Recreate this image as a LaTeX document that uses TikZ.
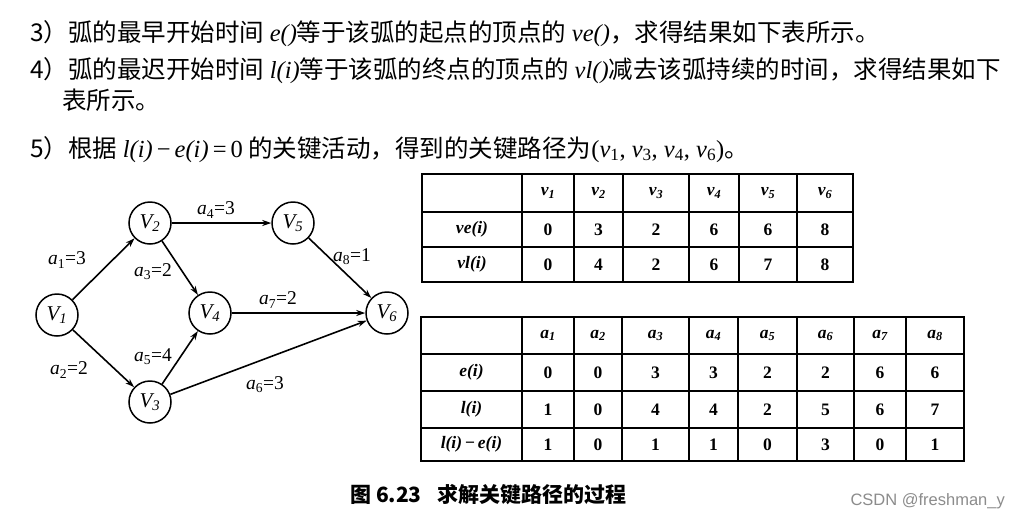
\documentclass[tikz,border=0pt]{standalone}
\usepackage{fontspec}
\setmainfont{Liberation Serif}
\newfontfamily\cjk{Noto Sans CJK SC}
\newfontfamily\wmfont{Liberation Sans}
\usetikzlibrary{arrows.meta}
\newcommand\mi[1]{{\rmfamily\itshape #1}}

\begin{document}
\begin{tikzpicture}[x=1pt,y=-1pt,
  vtx/.style={draw,circle,line width=1.5pt,minimum size=42pt,inner sep=0pt,font=\fontsize{21}{21}\selectfont\itshape},
  arc/.style={-{Stealth[length=9pt,width=6pt]},line width=1.6pt},
  lbl/.style={inner sep=0pt,font=\fontsize{19.5}{19.5}\selectfont},
  txt/.style={anchor=base west,inner sep=0pt,font=\fontsize{24.5}{25}\selectfont\cjk},
  cell/.style={inner sep=0pt,font=\fontsize{17.5}{17.5}\selectfont\bfseries},
  tline/.style={line width=1.1pt},
  tbox/.style={line width=1.6pt}]
  \useasboundingbox[fill=white] (0,0) rectangle (1019,520);

  % text above the figure
  \node[txt] (l1) at (30,41) {3）弧的最早开始时间 \mi{e()}等于该弧的起点的顶点的 \mi{ve()}，求得结果如下表所示。};
  \node[txt] (l2) at (30,78) {4）弧的最迟开始时间 \mi{l(i)}等于该弧的终点的顶点的 \mi{vl()}减去该弧持续的时间，求得结果如下};
  \node[txt] (l3) at (62,109) {表所示。};
  \node[txt] (l4) at (30,157) {5）根据 \mi{l(i)}{\rmfamily\,−\,}\mi{e(i)}{\rmfamily\,=\,0} 的关键活动，得到的关键路径为{\rmfamily(\mi{v}\textsubscript{1}, \mi{v}\textsubscript{3}, \mi{v}\textsubscript{4}, \mi{v}\textsubscript{6})}。};

  % AOE network
  \node[vtx] (v1) at (57,315) {V\textsubscript{1}};
  \node[vtx] (v2) at (150,223) {V\textsubscript{2}};
  \node[vtx] (v3) at (150,402) {V\textsubscript{3}};
  \node[vtx] (v4) at (210,313) {V\textsubscript{4}};
  \node[vtx] (v5) at (293,223) {V\textsubscript{5}};
  \node[vtx] (v6) at (387,313) {V\textsubscript{6}};
  \draw[arc] (v1) -- (v2);
  \draw[arc] (v1) -- (v3);
  \draw[arc] (v2) -- (v4);
  \draw[arc] (v2) -- (v5);
  \draw[arc] (v3) -- (v4);
  \draw[arc] (v3) -- (v6);
  \draw[arc] (v4) -- (v6);
  \draw[arc] (v5) -- (v6);
  \node[lbl] (a1) at (67,260) {\mi{a}\textsubscript{1}=3};
  \node[lbl] (a2) at (69,370) {\mi{a}\textsubscript{2}=2};
  \node[lbl] (a3) at (153,272) {\mi{a}\textsubscript{3}=2};
  \node[lbl] (a4) at (216,210) {\mi{a}\textsubscript{4}=3};
  \node[lbl] (a5) at (153,357) {\mi{a}\textsubscript{5}=4};
  \node[lbl] (a6) at (265,385) {\mi{a}\textsubscript{6}=3};
  \node[lbl] (a7) at (278,300) {\mi{a}\textsubscript{7}=2};
  \node[lbl] (a8) at (352,257) {\mi{a}\textsubscript{8}=1};

  % table of ve / vl
  \foreach \x in {522,574,623,689,739,797} {\draw[tline] (\x,174) -- (\x,282);}
  \foreach \y in {212,247} {\draw[tline] (422,\y) -- (853,\y);}
  \draw[tbox] (422,174) rectangle (853,282);
  \node[cell] (ve) at (472,229.5) {\itshape ve(i)};
  \node[cell] (vl) at (472,264.5) {\itshape vl(i)};
  \foreach \cx/\e/\l [count=\i] in {548/0/0,598.5/3/4,656/2/2,714/6/6,768/6/7,825/8/8} {
    \node[cell] (hv-\i) at (\cx,193) {\itshape v\textsubscript{\i}};
    \node[cell] (ve-\i) at (\cx,229.5) {\e};
    \node[cell] (vl-\i) at (\cx,264.5) {\l};
  }

  % table of e / l
  \foreach \x in {522,574,622,689,738,797,854,906} {\draw[tline] (\x,317) -- (\x,461);}
  \foreach \y in {354,391,428} {\draw[tline] (421,\y) -- (964,\y);}
  \draw[tbox] (421,317) rectangle (964,461);
  \node[cell] (e) at (471.5,372.5) {\itshape e(i)};
  \node[cell] (l) at (471.5,409.5) {\itshape l(i)};
  \node[cell] (d) at (471.5,444.5) {\itshape l(i)\,{\upshape −}\,e(i)};
  \foreach \cx/\e/\l/\d [count=\i] in {548/0/1/1,598/0/0/0,655.5/3/4/1,713.5/3/4/1,767.5/2/2/0,825.5/2/5/3,880/6/6/0,935/6/7/1} {
    \node[cell] (ha-\i) at (\cx,335.5) {\itshape a\textsubscript{\i}};
    \node[cell] (e-\i) at (\cx,372.5) {\e};
    \node[cell] (l-\i) at (\cx,409.5) {\l};
    \node[cell] (d-\i) at (\cx,444.5) {\d};
  }

  % caption and watermark
  \node[anchor=west,inner sep=0pt,font=\fontsize{21}{21}\selectfont\cjk\bfseries] (cap) at (350,495) {图 6.23\hspace{16pt}求解关键路径的过程};
  \node[anchor=east,inner sep=0pt,text=black!45,font=\fontsize{16.5}{16.5}\selectfont\wmfont] (wm) at (1005,501) {CSDN @freshman\_y};
\end{tikzpicture}
\end{document}
